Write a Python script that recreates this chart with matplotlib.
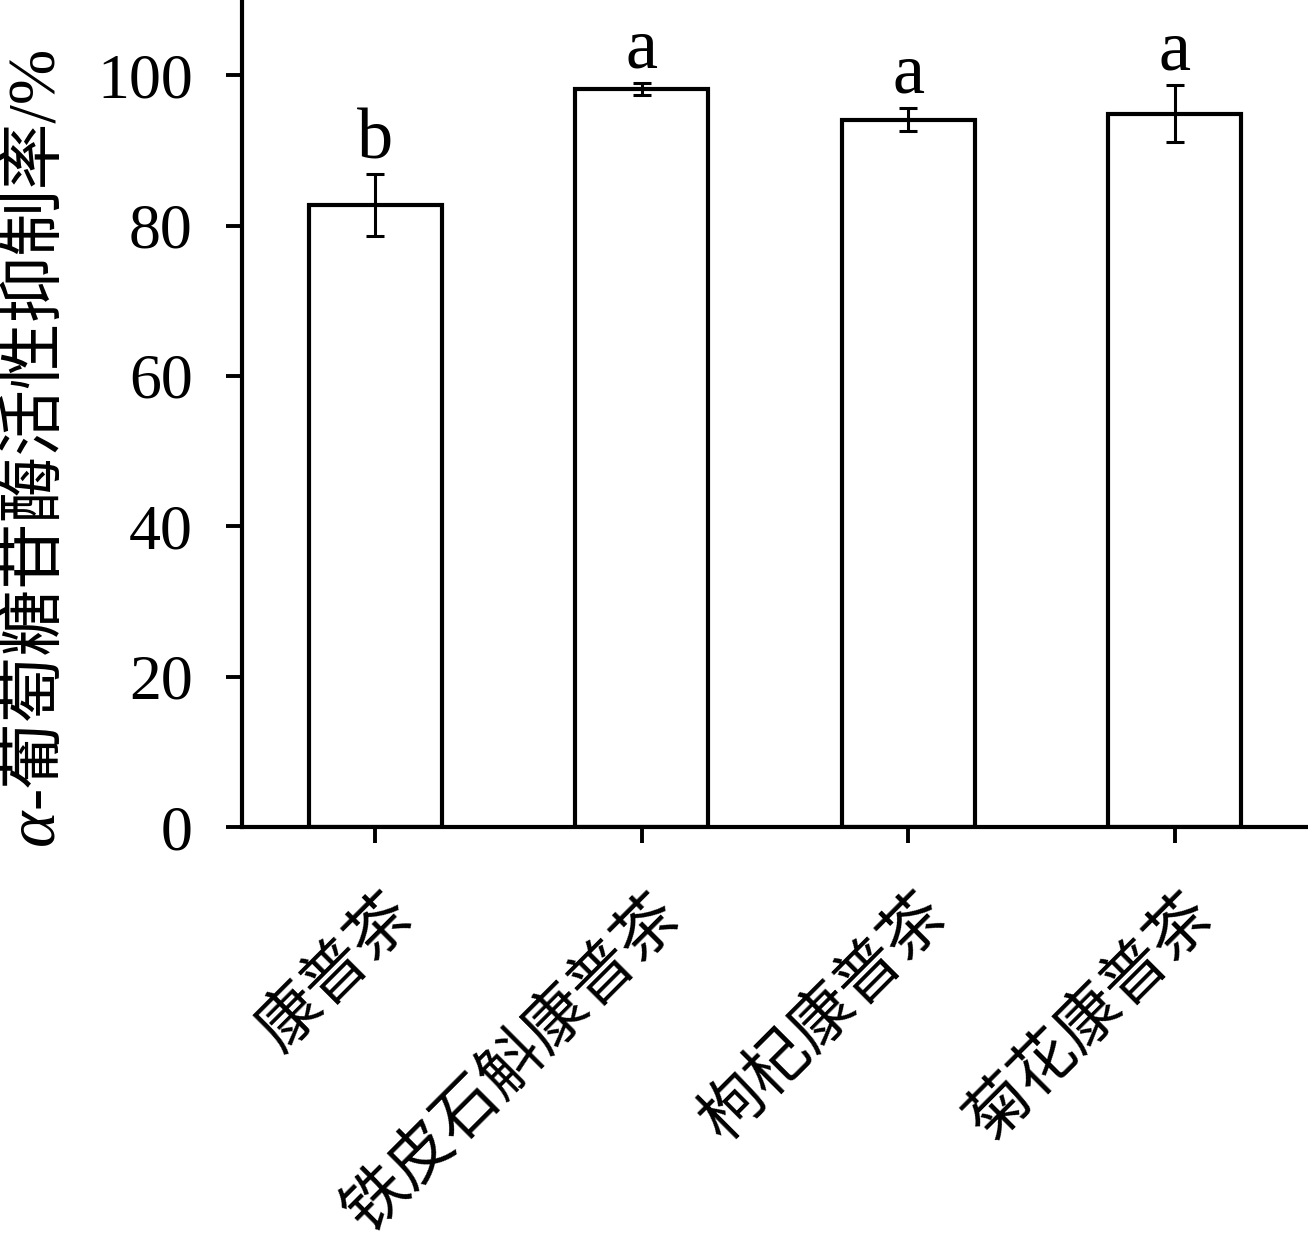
import matplotlib
matplotlib.use("Agg")
import matplotlib.pyplot as plt

names = ["康普茶", "铁皮石斛康普茶", "枸杞康普茶", "菊花康普茶"]
means = [82.7, 98.2, 94.1, 94.9]
errs = [4.15, 0.8, 1.5, 3.8]
letters = ["b", "a", "a", "a"]
yticks = [0, 20, 40, 60, 80, 100]

serif = "Liberation Serif"
cjk = ["Liberation Serif", "Noto Sans CJK SC", "DejaVu Sans"]

fig = plt.figure(figsize=(13.08, 12.58), dpi=100)
ax = fig.add_axes([242 / 1308, 1 - 827 / 1258, 1 - 242 / 1308, 827 / 1258])

x = list(range(len(names)))
ax.bar(x, means, width=0.5, color="white", edgecolor="black", linewidth=3.0, zorder=2)
ax.errorbar(x, means, yerr=errs, fmt="none", ecolor="black", elinewidth=2.2,
            capsize=6.5, capthick=2.2, zorder=3)

for i in x:
    ax.annotate(letters[i], xy=(i, means[i] + errs[i]), xytext=(0, 11),
                textcoords="offset points", ha="center", va="baseline",
                fontsize=52, family=serif)

ax.set_xlim(-0.5, 3.5)
ax.set_ylim(0, 110)
ax.set_yticks(yticks)
ax.set_yticklabels([str(v) for v in yticks], family=serif, fontsize=46)
ax.set_xticks(x)
ax.set_xticklabels([])
# rotated category labels, anchored at their right end a bit right of the tick
for i in x:
    ax.annotate(names[i], xy=(i, 0), xycoords=("data", "axes fraction"),
                xytext=(21.6, -57.5), textcoords="offset points",
                rotation=45, ha="right", va="center", rotation_mode="anchor",
                family=cjk, fontsize=46, annotation_clip=False)

for s in ["top", "right"]:
    ax.spines[s].set_visible(False)
for s in ["left", "bottom"]:
    ax.spines[s].set_linewidth(3.0)
ax.tick_params(axis="y", direction="out", length=11.5, width=2.8, pad=24)
ax.tick_params(axis="x", direction="out", length=11.5, width=2.8)

# y label: italic alpha + the rest, stacked vertically
ylx = 36 / 1308
a_txt = fig.text(ylx, 1 - 845 / 1258, "α", rotation=90, ha="center", va="bottom",
                 fontsize=50, family=serif, style="italic")
fig.canvas.draw()
bb = a_txt.get_window_extent()
fig.text(ylx, bb.y1 / fig.bbox.height, "-葡萄糖苷酶活性抑制率/%", rotation=90,
         ha="center", va="bottom", fontsize=48, family=cjk)

fig.savefig("out.png", dpi=100)
